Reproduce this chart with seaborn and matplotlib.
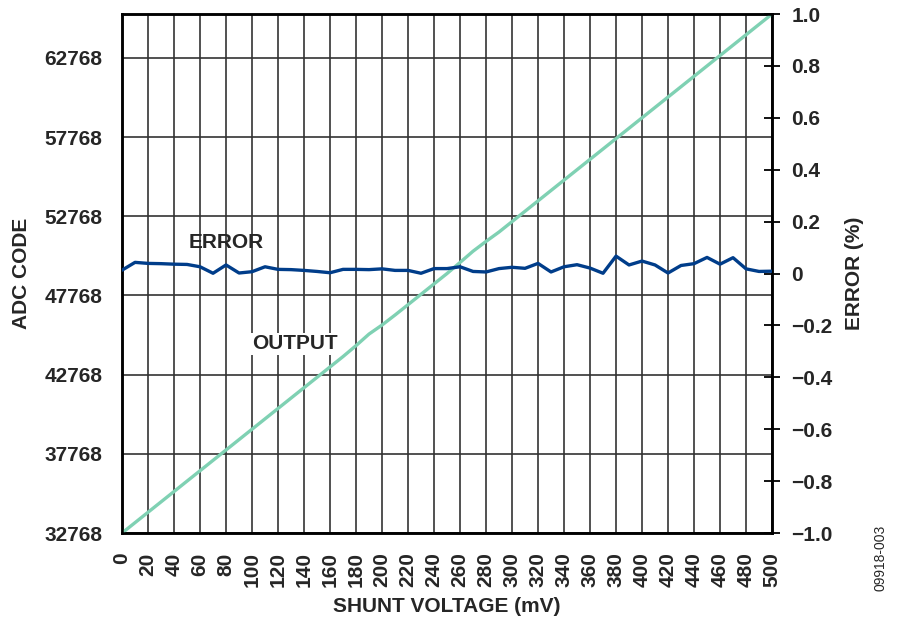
import matplotlib
matplotlib.use('Agg')
import matplotlib.pyplot as plt
import numpy as np
import pandas as pd
import seaborn as sns

# shunt voltage (mV), one point every 10 mV
shunt_mv = [0, 10, 20, 30, 40, 50, 60, 70, 80, 90,
            100, 110, 120, 130, 140, 150, 160, 170, 180, 190,
            200, 210, 220, 230, 240, 250, 260, 270, 280, 290,
            300, 310, 320, 330, 340, 350, 360, 370, 380, 390,
            400, 410, 420, 430, 440, 450, 460, 470, 480, 490, 500]

adc_code = [32768, 33423, 34079, 34734, 35389, 36045, 36700, 37356, 38011, 38666,
            39322, 39977, 40632, 41288, 41943, 42598, 43254, 43909, 44600, 45330,
            45900, 46531, 47186, 47841, 48497, 49152, 49850, 50560, 51180, 51773,
            52429, 53084, 53739, 54395, 55050, 55706, 56361, 57016, 57672, 58327,
            58982, 59638, 60293, 60948, 61604, 62259, 62915, 63570, 64225, 64881, 65535]

error_pct = [0.013, 0.043, 0.039, 0.038, 0.036, 0.035, 0.026, 0.001, 0.033, 0.002,
             0.007, 0.026, 0.016, 0.015, 0.012, 0.008, 0.003, 0.016, 0.016, 0.015,
             0.018, 0.012, 0.012, 0.001, 0.019, 0.019, 0.026, 0.008, 0.006, 0.019,
             0.024, 0.020, 0.039, 0.006, 0.026, 0.034, 0.021, 0.001, 0.067, 0.033,
             0.048, 0.033, 0.002, 0.031, 0.038, 0.062, 0.036, 0.061, 0.018, 0.008, 0.009]

left_ticks = [32768, 37768, 42768, 47768, 52768, 57768, 62768]
right_ticks = [-1.0, -0.8, -0.6, -0.4, -0.2, 0, 0.2, 0.4, 0.6, 0.8, 1.0]
x_ticks = list(range(0, 501, 20))

df = pd.DataFrame({'mv': shunt_mv, 'code': adc_code, 'err': error_pct})

sns.set_theme(style='white')
plt.rcParams['font.family'] = ['Liberation Sans', 'DejaVu Sans']
plt.rcParams['font.weight'] = 'bold'

fig = plt.figure(figsize=(9, 6.29), dpi=100)
ax = fig.add_axes([0.1356, 0.1526, 0.7222, 0.8251])
ax2 = ax.twinx()

sns.lineplot(data=df, x='mv', y='code', ax=ax, color='#7fd1b3', linewidth=2.4, zorder=3)
sns.lineplot(data=df, x='mv', y='err', ax=ax2, color='#003d8a', linewidth=2.4, zorder=3)

ax.set_xlim(0, 500)
ax.set_ylim(32768, 65536)
ax2.set_ylim(-1, 1)

ax.set_xticks(x_ticks)
ax.set_xticklabels([str(v) for v in x_ticks], rotation=90, fontsize=15, fontweight='bold')
ax.set_yticks(left_ticks)
ax.set_yticklabels([str(v) for v in left_ticks], fontsize=15, fontweight='bold')
ax2.set_yticks(right_ticks)
ax2.set_yticklabels(['\u22121.0', '\u22120.8', '\u22120.6', '\u22120.4', '\u22120.2', '0',
                     '0.2', '0.4', '0.6', '0.8', '1.0'], fontsize=15, fontweight='bold')

ax.grid(True, color='#333333', linewidth=1.2)
ax.set_axisbelow(True)
ax.tick_params(axis='both', length=0, pad=14)
ax2.tick_params(axis='y', direction='inout', length=12, width=1.3, color='black', pad=8)

for a in (ax, ax2):
    for s in a.spines.values():
        s.set_color('black')
        s.set_linewidth(1.8)

ax.set_xlabel('SHUNT VOLTAGE (mV)', fontsize=15, fontweight='bold', labelpad=7)
ax.set_ylabel('ADC CODE', fontsize=15, fontweight='bold', labelpad=10)
ax2.set_ylabel('ERROR (%)', fontsize=15, fontweight='bold', labelpad=9)

ax2.text(80, 0.12, 'ERROR', fontsize=15, fontweight='bold', ha='center', va='center')
ax2.text(133, -0.27, 'OUTPUT', fontsize=15, fontweight='bold', ha='center', va='center',
         bbox=dict(facecolor='white', edgecolor='none', pad=1))

fig.text(0.978, 0.06, '09918-003', rotation=90, fontsize=10, fontweight='normal',
         ha='center', va='bottom')

fig.savefig('out.png', dpi=100)
